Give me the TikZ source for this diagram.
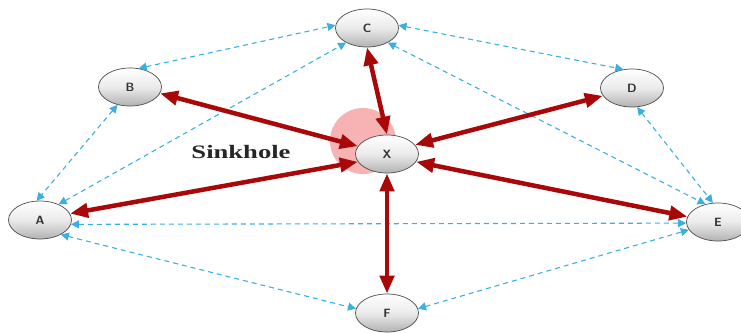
\documentclass[tikz,border=0pt]{standalone}
\usepackage{fontspec}
\newfontfamily\sinkfont{Liberation Serif}
\usetikzlibrary{shapes.geometric,arrows.meta}
\definecolor{redarrow}{HTML}{A80808}
\definecolor{bluedash}{HTML}{3AB0E2}
\definecolor{sink}{HTML}{F49A9A}
\begin{document}
\begin{tikzpicture}[x=1pt,y=-1pt,
  host/.style={ellipse,draw=black!70,line width=0.7pt,minimum width=63pt,minimum height=38pt,
    top color=white,bottom color=black!30,middle color=black!8,
    font=\sffamily\bfseries\large,text=black!80,inner sep=0pt},
  redlink/.style={draw=redarrow,line width=4.5pt,
    {Triangle[length=18pt,width=14pt]}-{Triangle[length=18pt,width=14pt]}},
  bluelink/.style={draw=bluedash,line width=1.1pt,dash pattern=on 5pt off 4pt,
    {Triangle[length=8pt,width=8pt]}-{Triangle[length=8pt,width=8pt]}}]
\useasboundingbox (0,0) rectangle (741,332);
\fill[sink,opacity=0.75] (363,141) circle (33pt);
\node[host] (C) at (367,28) {C};
\node[host] (B) at (130,87) {B};
\node[host] (D) at (632,88) {D};
\node[host] (X) at (387,154) {X};
\node[host] (A) at (40,220) {A};
\node[host] (E) at (718,222) {E};
\node[host] (F) at (387,313) {F};
\node[font=\sinkfont\bfseries\fontsize{19}{22}\selectfont,xscale=1.4,text=black!85] (S) at (241,152) {Sinkhole};
% blue dashed links
\draw[bluelink] (B.235) -- (A.100);
\draw[bluelink] (B.65) -- (C.175);
\draw[bluelink] (A.40) -- (C.215);
\draw[bluelink] (C.5) -- (D.115);
\draw[bluelink] (C.-35) -- (E.125);
\draw[bluelink] (D.-75) -- (E.105);
\draw[bluelink] (A.-8) -- (E.182);
\draw[bluelink] (A.-35) -- (F.172);
\draw[bluelink] (F.8) -- (E.-165);
% red links
\draw[redlink] (B.-12) -- (X.165);
\draw[redlink] (X.north) -- (C.south);
\draw[redlink] (X.18) -- (D.195);
\draw[redlink] (X.195) -- (A.12);
\draw[redlink] (X.-15) -- (E.170);
\draw[redlink] (X.south) -- (F.north);
\end{tikzpicture}
\end{document}
